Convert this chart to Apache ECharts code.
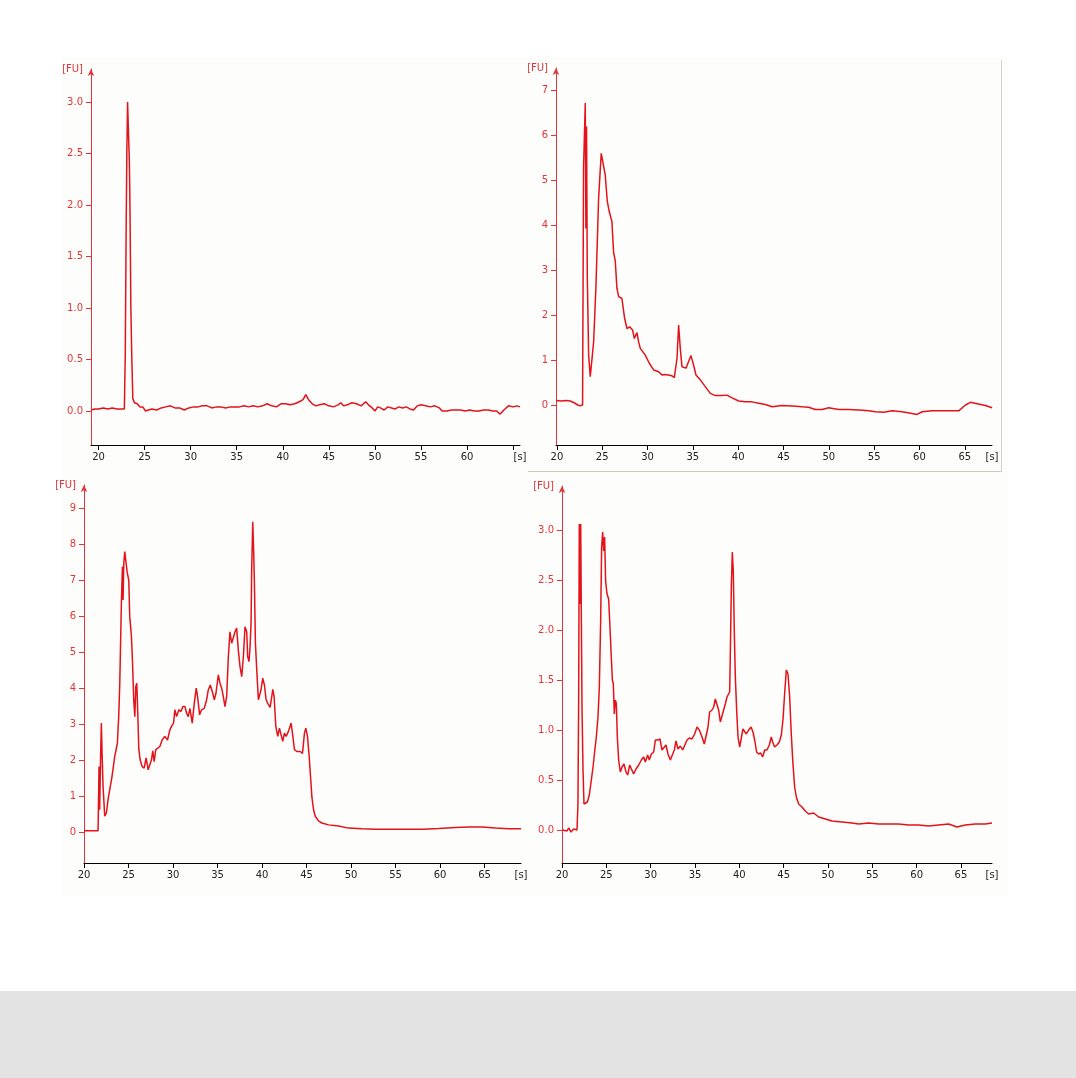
<!DOCTYPE html>
<html>
<head>
<meta charset="utf-8">
<script src="https://cdn.jsdelivr.net/npm/echarts@6/dist/echarts.min.js"></script>
<style>
html,body{margin:0;padding:0;background:#ffffff;}
#wrap{position:relative;width:1076px;height:1078px;overflow:hidden;}
#bg{position:absolute;left:62px;top:57px;width:946px;height:839px;background:#fdfefb;}
#band{position:absolute;left:0;top:991px;width:1076px;height:87px;background:#e3e3e3;}
#chart{position:absolute;left:0;top:0;width:1076px;height:1078px;}
</style>
</head>
<body>
<div id="wrap"><div id="bg"></div><div id="band"></div><div id="chart"></div></div>
<script>
// ---- data: [time (s), fluorescence (FU)] ----
const trace1 = [[19.2,0.01],[19.6,0.02],[20.0,0.02],[20.5,0.03],[21.0,0.02],[21.5,0.03],[22.0,0.02],[22.5,0.02],[22.8,0.02],[22.9,0.55],[23.0,1.8],[23.07,2.5],[23.15,3.0],[23.28,3.0],[23.35,2.4],[23.42,1.9],[23.5,1.05],[23.6,0.55],[23.72,0.12],[23.9,0.08],[24.2,0.07],[24.5,0.04],[24.8,0.04],[25.1,0.0],[25.4,0.01],[25.8,0.02],[26.3,0.01],[26.8,0.03],[27.3,0.04],[27.8,0.05],[28.3,0.03],[28.8,0.03],[29.3,0.01],[29.8,0.03],[30.3,0.04],[30.8,0.04],[31.3,0.05],[31.8,0.05],[32.3,0.03],[32.8,0.04],[33.3,0.04],[33.8,0.03],[34.3,0.04],[34.8,0.04],[35.3,0.04],[35.8,0.05],[36.3,0.04],[36.8,0.05],[37.3,0.04],[37.8,0.05],[38.3,0.07],[38.8,0.05],[39.3,0.04],[39.8,0.07],[40.3,0.07],[40.8,0.06],[41.3,0.07],[41.8,0.09],[42.2,0.11],[42.5,0.16],[42.8,0.11],[43.2,0.07],[43.6,0.05],[44.0,0.06],[44.5,0.07],[45.0,0.05],[45.5,0.04],[46.0,0.06],[46.3,0.08],[46.6,0.05],[47.0,0.06],[47.5,0.08],[48.0,0.07],[48.5,0.05],[49.0,0.09],[49.3,0.06],[49.7,0.03],[50.0,0.0],[50.3,0.04],[50.6,0.03],[51.0,0.01],[51.4,0.04],[51.8,0.03],[52.2,0.02],[52.6,0.04],[53.0,0.03],[53.4,0.04],[53.8,0.02],[54.2,0.01],[54.6,0.05],[55.0,0.06],[55.5,0.05],[56.0,0.04],[56.5,0.05],[57.0,0.03],[57.3,0.0],[57.8,0.0],[58.3,0.01],[58.8,0.01],[59.3,0.01],[59.8,0.0],[60.3,0.01],[60.8,0.0],[61.3,0.0],[61.8,0.01],[62.3,0.01],[62.8,0.0],[63.2,0.0],[63.6,-0.03],[64.0,0.01],[64.5,0.05],[65.0,0.04],[65.4,0.05],[65.75,0.04]];

const trace2 = [[19.9,0.1],[20.5,0.09],[21.0,0.1],[21.47,0.09],[21.9,0.05],[22.3,0.0],[22.58,-0.02],[22.83,0.0],[22.94,5.27],[23.13,6.72],[23.20,3.93],[23.27,6.2],[23.35,2.9],[23.50,1.11],[23.68,0.63],[24.05,1.4],[24.30,2.6],[24.60,4.6],[24.89,5.6],[25.04,5.63],[25.33,5.12],[25.56,4.53],[25.78,4.3],[26.07,4.08],[26.25,3.4],[26.44,3.2],[26.62,2.6],[26.81,2.41],[27.17,2.37],[27.47,1.93],[27.73,1.7],[28.02,1.74],[28.35,1.67],[28.54,1.48],[28.83,1.61],[29.01,1.41],[29.20,1.26],[29.75,1.11],[30.19,0.93],[30.67,0.78],[31.22,0.74],[31.59,0.67],[31.96,0.68],[32.69,0.65],[32.95,0.61],[33.25,1.04],[33.43,1.78],[33.61,1.26],[33.80,0.85],[34.24,0.82],[34.53,0.97],[34.79,1.1],[35.08,0.89],[35.34,0.67],[35.82,0.56],[36.37,0.41],[36.92,0.26],[37.48,0.21],[38.21,0.21],[38.76,0.22],[39.32,0.16],[40.05,0.09],[40.79,0.07],[41.52,0.07],[42.26,0.04],[43.00,0.01],[43.73,-0.04],[44.83,-0.01],[45.94,-0.02],[47.04,-0.04],[47.78,-0.05],[48.51,-0.1],[49.25,-0.1],[49.98,-0.06],[51.09,-0.1],[52.19,-0.1],[53.30,-0.11],[54.40,-0.13],[55.14,-0.15],[56.06,-0.16],[56.98,-0.13],[58.08,-0.15],[59.18,-0.19],[59.74,-0.21],[60.29,-0.15],[61.39,-0.13],[62.86,-0.13],[64.33,-0.13],[65.07,0.0],[65.62,0.06],[66.36,0.03],[67.28,-0.01],[68.01,-0.06]];

const trace3 = [[20.00,0.04],[21.58,0.04],[21.69,1.82],[21.76,0.62],[21.88,2.29],[21.95,3.03],[22.03,2.2],[22.14,1.27],[22.33,0.44],[22.52,0.53],[22.70,0.9],[22.89,0.94],[23.15,1.55],[23.45,2.1],[23.75,2.47],[23.90,3.21],[24.02,4.14],[24.20,6.36],[24.32,7.38],[24.39,6.45],[24.47,7.47],[24.58,7.8],[24.69,7.56],[24.84,7.24],[25.03,7.0],[25.14,5.99],[25.33,5.44],[25.44,4.79],[25.59,3.68],[25.71,3.21],[25.82,4.05],[25.93,4.14],[26.04,3.31],[26.16,2.29],[26.31,2.01],[26.53,1.82],[26.76,1.78],[26.98,2.06],[27.21,1.73],[27.39,1.69],[27.58,2.01],[27.73,2.26],[27.88,1.96],[28.07,2.29],[28.26,2.33],[28.52,2.38],[28.78,2.56],[29.08,2.66],[29.38,2.56],[29.65,2.84],[29.83,2.94],[30.06,3.03],[30.21,3.4],[30.40,3.21],[30.66,3.4],[30.89,3.35],[31.11,3.49],[31.34,3.49],[31.52,3.31],[31.71,3.21],[31.90,3.44],[32.16,3.03],[32.39,3.58],[32.61,4.0],[32.76,3.77],[32.99,3.26],[33.21,3.4],[33.51,3.44],[33.78,3.68],[33.96,3.95],[34.19,4.09],[34.41,3.91],[34.64,3.68],[34.83,3.86],[35.09,4.37],[35.28,4.14],[35.47,4.0],[35.65,3.77],[35.84,3.49],[36.03,3.77],[36.22,4.88],[36.40,5.57],[36.59,5.25],[36.78,5.2],[36.97,5.57],[37.15,5.67],[37.34,5.06],[37.53,4.6],[37.72,4.32],[37.91,4.88],[38.09,5.71],[38.28,5.57],[38.39,4.88],[38.54,4.74],[38.66,5.16],[38.77,5.81],[38.84,7.29],[38.96,8.63],[39.07,7.75],[39.14,7.01],[39.26,5.25],[39.41,4.51],[39.59,3.68],[39.74,3.63],[39.89,3.95],[40.08,4.28],[40.27,4.09],[40.46,3.68],[40.65,3.58],[40.91,3.47],[41.10,3.77],[41.21,3.97],[41.36,3.77],[41.55,2.94],[41.77,2.66],[41.96,2.89],[42.15,2.94],[42.33,2.52],[42.52,2.75],[42.71,2.66],[42.97,2.8],[43.27,3.03],[43.42,2.75],[43.65,2.29],[43.91,2.24],[44.29,2.24],[44.55,2.19],[44.77,2.75],[44.92,2.89],[45.11,2.66],[45.30,2.1],[45.45,1.55],[45.60,0.99],[45.79,0.62],[45.98,0.44],[46.35,0.31],[46.73,0.25],[47.48,0.2],[48.60,0.17],[49.73,0.11],[51.23,0.09],[52.73,0.08],[54.23,0.08],[56.11,0.08],[57.99,0.08],[59.86,0.1],[61.74,0.13],[63.24,0.14],[64.74,0.14],[66.25,0.11],[67.75,0.09],[69.1,0.09]];

const trace4 = [[20.08,0.0],[20.30,0.0],[20.56,-0.01],[20.75,0.02],[21.02,-0.02],[21.32,0.01],[21.50,0.0],[21.69,0.0],[21.80,0.26],[21.88,1.33],[21.95,3.06],[22.03,2.26],[22.11,3.06],[22.18,2.16],[22.26,1.2],[22.37,0.6],[22.48,0.26],[22.63,0.25],[22.86,0.28],[23.08,0.35],[23.31,0.5],[23.50,0.63],[23.68,0.78],[23.87,0.93],[24.06,1.13],[24.21,1.43],[24.36,2.09],[24.47,2.83],[24.59,2.98],[24.70,2.79],[24.81,2.93],[24.92,2.49],[25.08,2.36],[25.26,2.31],[25.41,2.03],[25.56,1.73],[25.68,1.5],[25.79,1.46],[25.90,1.16],[26.02,1.3],[26.13,1.26],[26.24,0.93],[26.39,0.7],[26.58,0.58],[26.77,0.63],[26.99,0.66],[27.22,0.58],[27.41,0.55],[27.63,0.65],[27.82,0.63],[28.08,0.56],[28.35,0.61],[28.65,0.65],[28.95,0.7],[29.21,0.73],[29.40,0.68],[29.66,0.75],[29.85,0.7],[30.08,0.76],[30.34,0.78],[30.53,0.9],[30.79,0.9],[31.05,0.91],[31.28,0.8],[31.47,0.78],[31.73,0.85],[31.95,0.76],[32.22,0.7],[32.41,0.68],[32.67,0.8],[32.86,0.89],[33.08,0.81],[33.35,0.84],[33.61,0.8],[33.83,0.81],[34.10,0.9],[34.36,0.92],[34.66,0.91],[34.96,0.96],[35.23,1.03],[35.49,1.0],[35.79,0.93],[36.05,0.86],[36.24,0.85],[36.47,1.03],[36.65,1.18],[36.92,1.2],[37.11,1.23],[37.29,1.31],[37.48,1.3],[37.67,1.2],[37.86,1.08],[38.05,1.06],[38.23,1.2],[38.42,1.26],[38.61,1.33],[38.80,1.35],[38.91,1.38],[38.98,1.73],[39.10,2.43],[39.21,2.78],[39.32,2.59],[39.44,1.96],[39.55,1.53],[39.70,1.2],[39.85,0.93],[40.04,0.83],[40.23,0.83],[40.41,1.01],[40.60,1.01],[40.79,0.96],[41.05,1.0],[41.32,1.03],[41.54,0.98],[41.73,0.9],[41.95,0.78],[42.18,0.76],[42.41,0.77],[42.63,0.73],[42.86,0.8],[43.12,0.8],[43.38,0.85],[43.61,0.93],[43.76,0.88],[43.98,0.83],[44.25,0.85],[44.51,0.88],[44.74,0.95],[44.92,1.1],[45.11,1.36],[45.30,1.6],[45.49,1.56],[45.68,1.33],[45.86,0.96],[46.05,0.66],[46.24,0.43],[46.43,0.33],[46.69,0.26],[47.07,0.23],[47.44,0.19],[47.82,0.16],[48.38,0.17],[48.95,0.13],[49.70,0.11],[50.45,0.09],[51.58,0.08],[52.71,0.07],[53.46,0.06],[54.59,0.07],[55.71,0.06],[56.84,0.06],[57.97,0.06],[59.10,0.05],[60.23,0.05],[61.35,0.04],[62.48,0.05],[63.61,0.06],[64.55,0.03],[65.49,0.05],[66.62,0.06],[67.74,0.06],[68.50,0.07]];

// tick values
const xTicks = [20,25,30,35,40,45,50,55,60,65];
const xLabels1 = [20,25,30,35,40,45,50,55,60];
const xLabels = [20,25,30,35,40,45,50,55,60,65];
const yTicksHalf = [0,0.5,1.0,1.5,2.0,2.5,3.0];
const yTicks7 = [0,1,2,3,4,5,6,7];
const yTicks9 = [0,1,2,3,4,5,6,7,8,9];

// ---- layout ----
const panels = [
  {data: trace1, grid:{left:91, top:69, width:429, height:376}, x:[19.18,65.75], y:[-0.33,3.32], yt:yTicksHalf, yDec:1, xl:xLabels1},
  {data: trace2, grid:{left:556, top:68, width:436, height:377}, x:[19.9,68.0], y:[-0.89,7.5], yt:yTicks7, yDec:0, xl:xLabels},
  {data: trace3, grid:{left:84, top:485, width:437, height:378}, x:[20,69.1], y:[-0.86,9.65], yt:yTicks9, yDec:0, xl:xLabels},
  {data: trace4, grid:{left:562, top:486, width:430, height:377}, x:[20,68.5], y:[-0.33,3.44], yt:yTicksHalf, yDec:1, xl:xLabels}
];

const RED = '#e3121b';
const AXRED = '#e2343a';
const FONT = 'DejaVu Sans';

const option = {
  animation:false,
  backgroundColor:'transparent',
  grid: panels.map(p => Object.assign({containLabel:false}, p.grid)),
  xAxis: panels.map((p,i) => ({
    type:'value', gridIndex:i, min:p.x[0], max:p.x[1],
    name:'[s]', nameLocation:'end', nameGap:0,
    nameTextStyle:{color:'#222', fontFamily:FONT, fontSize:10, align:'center', verticalAlign:'top', padding:[7,0,0,0]},
    axisLine:{show:true, onZero:false, lineStyle:{color:'#000', width:1}},
    axisTick:{show:true, length:5, customValues:xTicks, lineStyle:{color:'#000'}},
    axisLabel:{show:true, margin:7, customValues:p.xl, color:'#222', fontFamily:FONT, fontSize:10,
      formatter: v => String(Math.round(v))},
    splitLine:{show:false}
  })),
  yAxis: panels.map((p,i) => ({
    type:'value', gridIndex:i, min:p.y[0], max:p.y[1],
    name:'[FU]', nameLocation:'end', nameGap:0,
    nameTextStyle:{color:AXRED, fontFamily:FONT, fontSize:10, align:'right', verticalAlign:'middle', padding:[0,8,4,0]},
    axisLine:{show:true, onZero:false, symbol:['none','arrow'], symbolSize:[5,7], lineStyle:{color:AXRED, width:1}},
    axisTick:{show:true, length:5, customValues:p.yt, lineStyle:{color:AXRED}},
    axisLabel:{show:true, margin:8, customValues:p.yt, color:AXRED, fontFamily:FONT, fontSize:10,
      formatter: v => Number(v).toFixed(p.yDec)},
    splitLine:{show:false}
  })),
  series: panels.map((p,i) => ({
    type:'line', xAxisIndex:i, yAxisIndex:i, data:p.data,
    showSymbol:false, symbol:'none', smooth:false, clip:true,
    lineStyle:{color:RED, width:1.5}
  })),
  graphic:[
    {type:'line', shape:{x1:1001.5, y1:60, x2:1001.5, y2:471.5}, style:{stroke:'#d2d2cc', lineWidth:1}, silent:true},
    {type:'line', shape:{x1:528, y1:471.5, x2:1001.5, y2:471.5}, style:{stroke:'#cfcbb8', lineWidth:1}, silent:true}
  ]
};

const chart = echarts.init(document.getElementById('chart'), null, {renderer:'canvas'});
chart.setOption(option);
</script>
</body>
</html>
